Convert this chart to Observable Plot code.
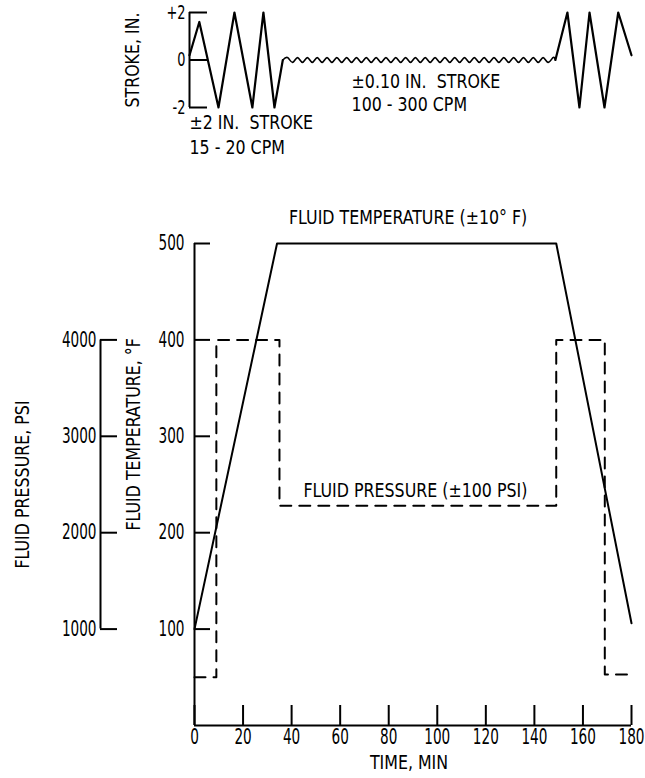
<!DOCTYPE html>
<html>
<head>
<meta charset="utf-8">
<script src="https://cdn.jsdelivr.net/npm/d3@7"></script>
<script src="https://cdn.jsdelivr.net/npm/@observablehq/plot@0.6"></script>
<style>
  html, body { margin: 0; padding: 0; background: #fff; }
  #wrap { position: relative; width: 645px; height: 778px; overflow: hidden; background: #fff; }
  #wrap > svg { position: absolute; left: 0; }
</style>
</head>
<body>
<div id="wrap"></div>
<script>
// ---------- data ----------
// Stroke cycle (top panel): large ±2 in. strokes, small ±0.10 in. dither, large strokes again
const strokeStartT = [0, 4, 11.8, 18.3, 25.6, 30.1, 34.6, 38];
const strokeStartV = [0.2, 1.6, -2, 2, -2, 2, -2, 0];
const ditherT = [38, 40, 42, 44, 46, 48, 50, 52, 54, 56, 58, 60, 62, 64, 66, 68, 70, 72, 74, 76, 78,
                 80, 82, 84, 86, 88, 90, 92, 94, 96, 98, 100, 102, 104, 106, 108, 110, 112, 114, 116,
                 118, 120, 122, 124, 126, 128, 130, 132, 134, 136, 138, 140, 142, 144, 146, 148, 149];
const ditherV = [0, 0.1, -0.1, 0.1, -0.1, 0.1, -0.1, 0.1, -0.1, 0.1, -0.1, 0.1, -0.1, 0.1, -0.1, 0.1,
                 -0.1, 0.1, -0.1, 0.1, -0.1, 0.1, -0.1, 0.1, -0.1, 0.1, -0.1, 0.1, -0.1, 0.1, -0.1,
                 0.1, -0.1, 0.1, -0.1, 0.1, -0.1, 0.1, -0.1, 0.1, -0.1, 0.1, -0.1, 0.1, -0.1, 0.1,
                 -0.1, 0.1, -0.1, 0.1, -0.1, 0.1, -0.1, 0.1, -0.1, 0.1, 0];
const strokeEndT = [149, 153.9, 158.8, 162.9, 169, 174.6, 180];
const strokeEndV = [0, 2, -2, 2, -2, 2, 0.2];
const strokeTicks = [-2, 0, 2];

// Fluid temperature (°F) and fluid pressure (psi) vs time (min)
const tempT = [0, 34, 149, 180];
const tempV = [100, 500, 500, 106];
const pressT = [0, 9, 9, 35, 35, 149, 149, 169, 169, 180];
const pressV = [500, 500, 4000, 4000, 2280, 2280, 4000, 4000, 530, 530];

const timeTicks = [0, 20, 40, 60, 80, 100, 120, 140, 160, 180];
const tempTicks = [100, 200, 300, 400, 500];
const pressTicks = [1000, 2000, 3000, 4000];
const psiPerDegF = 10; // pressure axis is 10 psi per °F on the shared scale

// annotation texts (positions in data units)
const topNotes = [
  {t: 0, v: -2.63, text: "±2 IN.  STROKE"},
  {t: 0, v: -3.68, text: "15 - 20 CPM"},
  {t: 66, v: -0.9, text: "±0.10 IN.  STROKE"},
  {t: 66, v: -1.87, text: "100 - 300 CPM"}
];
const mainNotes = [
  {t: 88, v: 527, text: "FLUID TEMPERATURE (±10° F)"},
  {t: 91, v: 2440 / psiPerDegF, text: "FLUID PRESSURE (±100 PSI)"}
];

// ---------- helpers ----------
const FONT = "'DejaVu Sans Condensed', 'DejaVu Sans', sans-serif";
const zip = (xs, ys) => xs.map((x, i) => ({t: x, v: ys[i]}));
const strokeStart = zip(strokeStartT, strokeStartV);
const dither = zip(ditherT, ditherV);
const strokeEnd = zip(strokeEndT, strokeEndV);
const temp = zip(tempT, tempV);
const press = zip(pressT, pressV);

const style = {fontFamily: FONT, fontSize: "20px", color: "black", background: "white", overflow: "visible"};

// ---------- top panel: stroke ----------
const topPlot = Plot.plot({
  width: 645, height: 170,
  marginLeft: 189, marginRight: 14, marginTop: 12, marginBottom: 63,
  x: {domain: [0, 180], axis: null},
  y: {domain: [-2, 2], axis: null},
  style,
  marks: [
    Plot.ruleX([0], {y1: -2, y2: 2, strokeWidth: 2}),
    Plot.axisY(strokeTicks, {anchor: "left", tickSize: 18, dx: 18, tickFormat: () => "", label: null, strokeWidth: 2}),
    Plot.axisY(strokeTicks, {anchor: "left", tickSize: 0, tickPadding: 4, label: null, fontSize: 20,
      tickFormat: d => d > 0 ? "+" + d : String(d)}),
    Plot.line(strokeStart, {x: "t", y: "v", strokeWidth: 2.2}),
    Plot.line(dither, {x: "t", y: "v", strokeWidth: 1.6, curve: "natural"}),
    Plot.line(strokeEnd, {x: "t", y: "v", strokeWidth: 2.2}),
    Plot.text(["STROKE, IN."], {frameAnchor: "left", textAnchor: "middle", lineAnchor: "middle", rotate: -90, dx: -57, fontSize: 20}),
    Plot.text(topNotes, {x: "t", y: "v", text: "text", textAnchor: "start", lineAnchor: "middle", fontSize: 20})
  ]
});
topPlot.style.top = "0px";

// ---------- main panel ----------
const mainPlot = Plot.plot({
  width: 645, height: 608,
  marginLeft: 194, marginRight: 14, marginTop: 73, marginBottom: 53,
  x: {domain: [0, 180], axis: null},
  y: {domain: [0, 500], axis: null},
  style,
  marks: [
    // frame lines
    Plot.ruleY([0], {x1: 0, x2: 180, strokeWidth: 2}),
    Plot.ruleX([0], {y1: 0, y2: 500, strokeWidth: 2}),
    // time axis
    Plot.axisX(timeTicks, {anchor: "bottom", tickSize: 20, dy: -20, tickFormat: () => "", label: null, strokeWidth: 2}),
    Plot.axisX(timeTicks, {anchor: "bottom", tickSize: 0, tickPadding: 4, label: null, fontSize: 21}),
    Plot.text(["TIME, MIN"], {frameAnchor: "bottom", textAnchor: "middle", lineAnchor: "middle", dy: 37, dx: -4, fontSize: 20}),
    // temperature axis
    Plot.axisY(tempTicks, {anchor: "left", tickSize: 16, dx: 16, tickFormat: () => "", label: null, strokeWidth: 2}),
    Plot.axisY(tempTicks, {anchor: "left", tickSize: 0, tickPadding: 10, label: null, fontSize: 21}),
    Plot.text(["FLUID TEMPERATURE, °F"], {x: () => 0, y: () => 302, rotate: -90, dx: -61, fontSize: 20}),
    // pressure axis (offset to the left, 10 psi per °F)
    Plot.ruleX([0], {y1: pressTicks[0] / psiPerDegF, y2: pressTicks[pressTicks.length - 1] / psiPerDegF, dx: -94, strokeWidth: 2}),
    Plot.axisY(pressTicks.map(d => d / psiPerDegF), {anchor: "left", tickSize: 17, dx: -77, tickFormat: () => "", label: null, strokeWidth: 2}),
    Plot.axisY(pressTicks.map(d => d / psiPerDegF), {anchor: "left", tickSize: 0, tickPadding: 4, dx: -94, label: null, fontSize: 21,
      tickFormat: d => String(d * psiPerDegF)}),
    Plot.text(["FLUID PRESSURE, PSI"], {x: () => 0, y: () => 250, rotate: -90, dx: -172, fontSize: 20}),
    // data
    Plot.line(temp, {x: "t", y: "v", strokeWidth: 2}),
    Plot.line(press, {x: "t", y: d => d.v / psiPerDegF, strokeWidth: 2, strokeDasharray: "11,8"}),
    Plot.text(mainNotes, {x: "t", y: "v", text: "text", fontSize: 20})
  ]
});
mainPlot.style.top = "170px";

const wrap = document.getElementById("wrap");
wrap.appendChild(topPlot);
wrap.appendChild(mainPlot);

// narrow the lettering to the condensed typewriter style of the original
function squeeze(svg) {
  svg.querySelectorAll("text").forEach(t => {
    const g = t.closest("g[aria-label]");
    const isTick = g && /tick label/.test(g.getAttribute("aria-label"));
    const k = isTick ? 0.72 : 0.88;
    const L = t.getComputedTextLength();
    if (L > 0) {
      t.setAttribute("textLength", (L * k).toFixed(1));
      t.setAttribute("lengthAdjust", "spacingAndGlyphs");
    }
  });
}
squeeze(topPlot);
squeeze(mainPlot);
</script>
</body>
</html>
